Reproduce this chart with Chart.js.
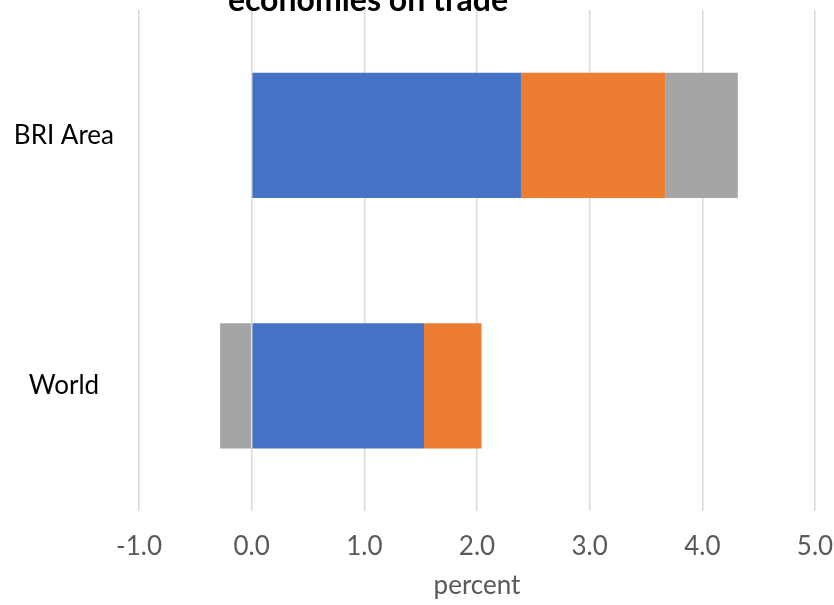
<!DOCTYPE html>
<html>
<head>
<meta charset="utf-8">
<script src="https://cdn.jsdelivr.net/npm/chart.js@4/dist/chart.umd.min.js"></script>
<style>
  html, body { margin: 0; padding: 0; background: #fff; }
  #wrap { width: 834px; height: 605px; }
</style>
</head>
<body>
<div id="wrap"><canvas id="tradeChart" width="834" height="605"></canvas></div>
<script>
// categories and stacked components (percent)
const regions = ['BRI Area', 'World'];
const seriesNames = ['Series 1', 'Series 2', 'Series 3'];
const blueVals = [2.39, 1.53];
const orangeVals = [1.28, 0.51];
const grayVals = [0.645, -0.28];
const xTicks = [-1, 0, 1, 2, 3, 4, 5];
const titleText = 'economies on trade';
const axisTitle = 'percent';

const font = 'Lato, "Open Sans", sans-serif';

// title sits at the very top edge, partly cut off
const topTitle = {
  id: 'topTitle',
  afterDraw(chart) {
    const ctx = chart.ctx;
    ctx.save();
    ctx.font = 'bold 32px ' + font;
    ctx.fillStyle = '#000';
    ctx.textAlign = 'center';
    ctx.textBaseline = 'alphabetic';
    ctx.fillText(titleText, 368, 11);
    ctx.restore();
  }
};

// drop the overhang padding so the plot spans the full box
const noOverhang = (s) => {
  s.paddingTop = 0;
  s.paddingBottom = 0;
  s.paddingLeft = 0;
  s.paddingRight = 0;
};

const ctx = document.getElementById('tradeChart').getContext('2d');
const chart = new Chart(ctx, {
  type: 'bar',
  data: {
    labels: regions,
    datasets: [
      { label: seriesNames[0], data: blueVals, backgroundColor: '#4472C4' },
      { label: seriesNames[1], data: orangeVals, backgroundColor: '#ED7D31' },
      { label: seriesNames[2], data: grayVals, backgroundColor: '#A5A5A5' }
    ]
  },
  options: {
    indexAxis: 'y',
    responsive: false,
    animation: false,
    layout: { padding: { top: 10, right: 19, bottom: 0, left: 0 } },
    datasets: {
      bar: { barPercentage: 0.5, categoryPercentage: 1, borderWidth: 0 }
    },
    scales: {
      x: {
        stacked: true,
        min: -1,
        max: 5,
        afterBuildTicks: (s) => { s.ticks = xTicks.map(v => ({ value: v })); },
        afterFit: (s) => { s.height = 94; noOverhang(s); },
        grid: { color: '#D9D9D9', lineWidth: 1.5, drawTicks: false },
        border: { display: false },
        ticks: {
          color: '#595959',
          padding: 20,
          font: { family: font, size: 26 },
          callback: (v) => Number(v).toFixed(1)
        },
        title: {
          display: true,
          text: axisTitle,
          color: '#595959',
          padding: { top: 0, bottom: 4 },
          font: { family: font, size: 26 }
        }
      },
      y: {
        stacked: true,
        afterFit: (s) => { s.width = 139; noOverhang(s); },
        grid: { display: false },
        border: { display: false },
        ticks: {
          color: '#000',
          crossAlign: 'center',
          padding: 17,
          font: { family: font, size: 26 }
        }
      }
    },
    plugins: {
      legend: { display: false },
      tooltip: { enabled: false }
    }
  },
  plugins: [topTitle]
});
</script>
</body>
</html>
